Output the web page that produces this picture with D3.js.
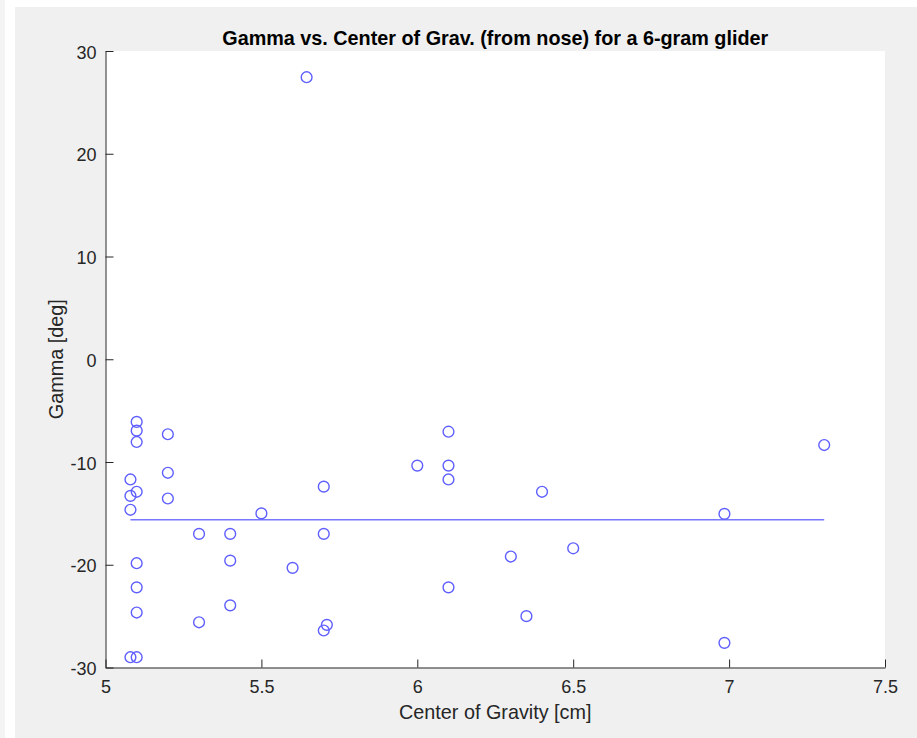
<!DOCTYPE html>
<html>
<head>
<meta charset="utf-8">
<script src="https://cdn.jsdelivr.net/npm/d3@7"></script>
<style>
  body { margin: 0; background: #fff; }
  svg { display: block; font-family: "Liberation Sans", Helvetica, Arial, sans-serif; }
</style>
</head>
<body>
<div id="chart"></div>
<script>
// measured glider runs: centre of gravity [cm] and glide angle gamma [deg]
const centerOfGravity = [
  5.645, 5.1, 5.1, 5.1, 5.2, 5.08, 5.08, 5.1, 5.08, 5.2,
  5.2, 5.3, 5.4, 5.4, 5.4, 5.3, 5.5, 5.1, 5.1, 5.1,
  5.08, 5.1, 5.6, 5.7, 5.7, 5.7, 5.71, 6.0, 6.1, 6.1,
  6.1, 6.1, 6.3, 6.4, 6.35, 6.5, 6.985, 6.985, 7.305
];
const gamma = [
  27.45, -6.1, -6.95, -8.05, -7.3, -11.7, -13.3, -12.9, -14.65, -11.05,
  -13.55, -17.0, -17.0, -19.6, -23.95, -25.6, -15.0, -19.85, -22.2, -24.65,
  -29.0, -29.0, -20.3, -12.4, -17.0, -26.4, -25.85, -10.35, -7.05, -10.35,
  -11.7, -22.2, -19.2, -12.9, -25.0, -18.4, -15.05, -27.6, -8.35
];
// fitted line
const fitX = [5.08, 7.305];
const fitY = [-15.62, -15.62];

const xTicks = [5, 5.5, 6, 6.5, 7, 7.5];
const yTicks = [-30, -20, -10, 0, 10, 20, 30];

const titleText = "Gamma vs. Center of Grav. (from nose) for a 6-gram glider";
const xLabel = "Center of Gravity [cm]";
const yLabel = "Gamma [deg]";

const width = 917;
const height = 738;
const margins = { top: 51, right: 32, bottom: 70.5, left: 105.5 };
const axisColor = "#262626";
const markColor = "#5f5fff";

const svg = d3.select("#chart").append("svg")
  .attr("width", width)
  .attr("height", height);

// figure background
svg.append("rect").attr("x", 0).attr("y", 0).attr("width", 5).attr("height", height).attr("fill", "#f4f4f4");
svg.append("rect").attr("x", 15).attr("y", 7).attr("width", width - 15).attr("height", height - 7).attr("fill", "#f0f0f0");

const x = d3.scaleLinear().domain([5, 7.5]).range([margins.left, width - margins.right]);
const y = d3.scaleLinear().domain([-30, 30]).range([height - margins.bottom, margins.top]);

svg.append("rect")
  .attr("x", x.range()[0])
  .attr("y", y.range()[1])
  .attr("width", x.range()[1] - x.range()[0])
  .attr("height", y.range()[0] - y.range()[1])
  .attr("fill", "#fff");

const xAxis = svg.append("g")
  .attr("transform", `translate(0, ${y.range()[0]})`)
  .call(d3.axisBottom(x).tickValues(xTicks).tickFormat((d) => d).tickSizeInner(-8).tickSizeOuter(0).tickPadding(13));

const yAxis = svg.append("g")
  .attr("transform", `translate(${x.range()[0]}, 0)`)
  .call(d3.axisLeft(y).tickValues(yTicks).tickFormat((d) => d).tickSizeInner(-8).tickSizeOuter(0).tickPadding(9));

[xAxis, yAxis].forEach((g) => {
  g.attr("font-family", null).attr("font-size", 18);
  g.selectAll("path, line").attr("stroke", axisColor).attr("stroke-width", 1);
  g.selectAll("text").attr("fill", axisColor);
});
yAxis.selectAll("text").attr("dy", "0.4em");

// fit line
const line = d3.line().x((d) => x(d[0])).y((d) => y(d[1]));
svg.append("path")
  .datum(d3.zip(fitX, fitY))
  .attr("fill", "none")
  .attr("stroke", "#7777ff")
  .attr("stroke-width", 1.5)
  .attr("d", line);

// markers
svg.append("g")
  .selectAll("circle")
  .data(d3.zip(centerOfGravity, gamma))
  .join("circle")
  .attr("cx", (d) => x(d[0]))
  .attr("cy", (d) => y(d[1]))
  .attr("r", 5.4)
  .attr("fill", "none")
  .attr("stroke", markColor)
  .attr("stroke-width", 1.4);

const midX = (x.range()[0] + x.range()[1]) / 2;

svg.append("text")
  .attr("x", midX)
  .attr("y", 45)
  .attr("text-anchor", "middle")
  .attr("font-size", 19.8)
  .attr("font-weight", "bold")
  .attr("fill", "#000")
  .text(titleText);

svg.append("text")
  .attr("x", midX)
  .attr("y", 719)
  .attr("text-anchor", "middle")
  .attr("font-size", 19.8)
  .attr("fill", axisColor)
  .text(xLabel);

svg.append("text")
  .attr("transform", `translate(63, ${(y.range()[0] + y.range()[1]) / 2}) rotate(-90)`)
  .attr("text-anchor", "middle")
  .attr("font-size", 19.8)
  .attr("fill", axisColor)
  .text(yLabel);
</script>
</body>
</html>
